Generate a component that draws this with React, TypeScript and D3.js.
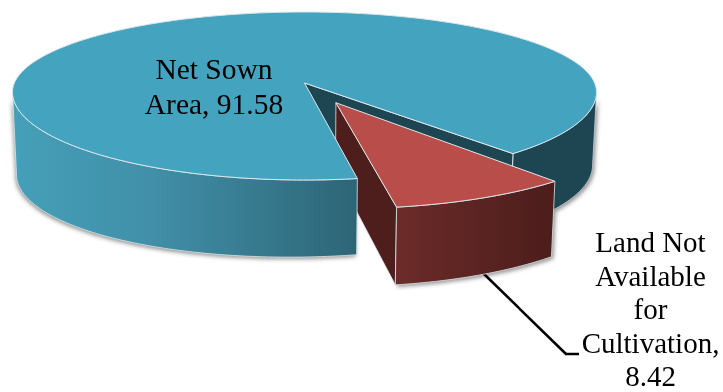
import React from "react";
import * as d3 from "d3";

const categories = ["Land Not Available for Cultivation", "Net Sown Area"];
const values = [8.42, 91.58];
const labelNet = ["Net Sown", "Area, 91.58"];
const labelLand = ["Land Not", "Available", "for", "Cultivation,", "8.42"];

const W = 723, H = 392;
const deg = Math.PI / 180;
type Plane = { cx: number; cy: number; rx: number; ry: number; ryUp: number; shear: number };
const topPlane: Plane = { cx: 304.5, cy: 97, rx: 292, ry: 85, ryUp: 85, shear: 0 };
const rimPlane: Plane = { cx: 304.5, cy: 92, rx: 292, ry: 88, ryUp: 80, shear: 0 };
const botPlane: Plane = { cx: 304.5, cy: 165, rx: 288, ry: 92.5, ryUp: 92.5, shear: 0 };
const baseRim: Plane = { cx: 304.5, cy: 170, rx: 288, ry: 87, ryUp: 87, shear: -0.016 };
const persp = 0.165;
const explode = 0.253;
const explodeDir = 24.5 * deg;
const redRadius = 0.985;
const leftExtreme = 260.5 * deg;
const rightExtreme = 99.5 * deg;

type P = [number, number];

// Disk coordinates (u right, v toward viewer) to screen, with a projective tilt.
const project = (pl: Plane, u: number, v: number): P => {
  const den = 1 - persp * v;
  const un = (u * Math.sqrt(1 - persp * persp)) / den;
  const vn = (v - persp) / den;
  const x = un * pl.rx;
  return [pl.cx + x, pl.cy + vn * (vn < 0 ? pl.ryUp : pl.ry) + x * pl.shear];
};
const onDisk = (pl: Plane, a: number, r = 1, ox = 0, oy = 0): P =>
  project(pl, ox + r * Math.sin(a), oy - r * Math.cos(a));

const pieGen = d3.pie<number>().sort(null).startAngle(140.85 * deg).endAngle((140.85 + 360) * deg);
const [redArc, blueArc] = pieGen(values);

const lineGen = d3.line();
const sample = (a0: number, a1: number) => {
  const n = Math.max(2, Math.ceil(Math.abs(a1 - a0) / (1 * deg)));
  return d3.range(n + 1).map((i) => a0 + ((a1 - a0) * i) / n);
};
const arcPts = (pl: Plane, a0: number, a1: number, r = 1, ox = 0, oy = 0) =>
  sample(a0, a1).map((a) => onDisk(pl, a, r, ox, oy));
const close = (pts: P[]) => (lineGen(pts) as string) + "Z";

const ox = explode * Math.sin(explodeDir);
const oy = explode * Math.cos(explodeDir);

// Blue
const blueTop = close([project(topPlane, 0, 0), ...arcPts(rimPlane, blueArc.startAngle, blueArc.endAngle)]);
const wallPath = (a0: number, a1: number) =>
  close([...arcPts(rimPlane, a0, a1), ...arcPts(baseRim, a1, a0)]);
const blueFront = wallPath(blueArc.startAngle, leftExtreme);
const blueRight = wallPath(rightExtreme, redArc.startAngle);
const innerFace = close([
  project(topPlane, 0, 0),
  onDisk(rimPlane, redArc.startAngle),
  onDisk(baseRim, redArc.startAngle),
  project(botPlane, 0, 0),
]);

// Red
const redTop = close([
  project(topPlane, ox, oy),
  ...arcPts(topPlane, redArc.startAngle, redArc.endAngle, redRadius, ox, oy),
]);
const redFront = close([
  ...arcPts(topPlane, redArc.startAngle, redArc.endAngle, redRadius, ox, oy),
  ...arcPts(botPlane, redArc.endAngle, redArc.startAngle, redRadius, ox, oy),
]);
const redSide = close([
  project(topPlane, ox, oy),
  onDisk(topPlane, redArc.endAngle, redRadius, ox, oy),
  onDisk(botPlane, redArc.endAngle, redRadius, ox, oy),
  project(botPlane, ox, oy),
]);

const edge = "#dbe6e9";
const font = "'Liberation Serif', 'Times New Roman', serif";

export default function App() {
  return (
    <svg
      width={W}
      height={H}
      viewBox={`0 0 ${W} ${H}`}
      style={{ position: "absolute", left: 0, top: 0, background: "#fff" }}
      aria-label={categories.join(", ")}
    >
      <defs>
        <linearGradient id="blueWall" gradientUnits="userSpaceOnUse" x1="17" x2="357" y1="0" y2="0">
          <stop offset="0" stopColor="#459FB8" />
          <stop offset="0.4" stopColor="#418FA8" />
          <stop offset="1" stopColor="#2D6576" />
        </linearGradient>
        <linearGradient id="redWall" gradientUnits="userSpaceOnUse" x1="396" x2="555" y1="0" y2="0">
          <stop offset="0" stopColor="#6C2B29" />
          <stop offset="1" stopColor="#4B1D1B" />
        </linearGradient>
        <filter id="soft" x="-10%" y="-10%" width="120%" height="130%">
          <feGaussianBlur stdDeviation="2" />
        </filter>
      </defs>

      <g filter="url(#soft)" fill="#555" opacity={0.65} transform="translate(-1 2)">
        <path d={blueFront} />
        <path d={blueRight} transform="translate(3 0)" />
        <path d={redFront} transform="translate(3 0)" />
      </g>

      <path d={blueRight} fill="#1E4552" stroke={edge} strokeWidth={0.6} />
      <path d={innerFace} fill="#1E4552" stroke={edge} strokeWidth={1} />
      <path d={redSide} fill="#4D1E1C" stroke={edge} strokeWidth={0.8} />
      <path d={blueFront} fill="url(#blueWall)" stroke={edge} strokeWidth={0.8} />
      <path d={blueTop} fill="#44A4BF" stroke={edge} strokeWidth={1} />

      <line x1={483} y1={273} x2={566} y2={354} stroke="#000" strokeWidth={2.5} />
      <line x1={565} y1={354} x2={579} y2={354} stroke="#000" strokeWidth={2.5} />

      <path d={redFront} fill="url(#redWall)" stroke={edge} strokeWidth={0.8} />
      <path d={redTop} fill="#B84D49" stroke={edge} strokeWidth={1} />

      <g fontFamily={font} fill="#000" textAnchor="middle">
        {labelNet.map((t, i) => (
          <text key={t} x={214} y={79 + i * 35} fontSize={29.5}>{t}</text>
        ))}
        {labelLand.map((t, i) => (
          <text key={t} x={650.5} y={252 + i * 33.5} fontSize={29}>{t}</text>
        ))}
      </g>
    </svg>
  );
}
